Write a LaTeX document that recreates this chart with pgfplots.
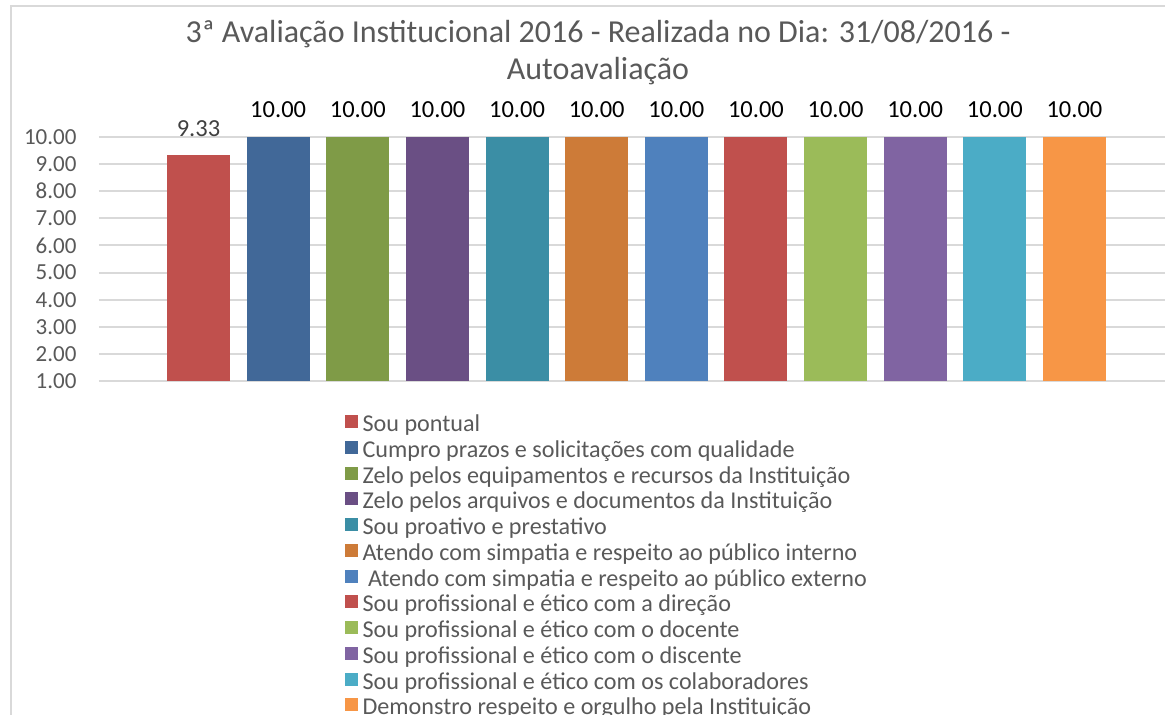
\documentclass[border=0pt]{standalone}
\usepackage{fontspec}
\setmainfont{Carlito}
\usepackage{pgfplots}
\pgfplotsset{compat=1.18}
\definecolor{framegray}{HTML}{D9D9D9}
\definecolor{gridgray}{HTML}{D9D9D9}
\definecolor{textgray}{HTML}{595959}
\definecolor{labelgray}{HTML}{404040}
\definecolor{cA}{HTML}{C0504D}
\definecolor{cB}{HTML}{416898}
\definecolor{cC}{HTML}{7F9B47}
\definecolor{cD}{HTML}{6A4F84}
\definecolor{cE}{HTML}{3B8EA5}
\definecolor{cF}{HTML}{CD7B38}
\definecolor{cG}{HTML}{4F81BD}
\definecolor{cH}{HTML}{C0504D}
\definecolor{cI}{HTML}{9BBB59}
\definecolor{cJ}{HTML}{8064A2}
\definecolor{cK}{HTML}{4BACC6}
\definecolor{cL}{HTML}{F79646}

\begin{document}
\begin{tikzpicture}
\clip (0,0) rectangle (466pt,286pt);
\draw[framegray, line width=0.8pt] (4.4pt,0) -- (4.4pt,283.6pt) -- (470pt,283.6pt);
\begin{axis}[
  at={(39.6pt,133.6pt)}, anchor=south west,
  width=430pt, height=97.6pt, scale only axis,
  xmin=-0.25, xmax=13.25, ymin=1, ymax=10,
  ytick={1,2,...,10}, xtick=\empty,
  ybar, bar width=25.2pt, bar shift=0pt,
  ymajorgrids, grid style={gridgray, line width=0.8pt},
  axis line style={draw=none}, major tick length=0pt,
  /pgf/number format/assume math mode=true,
  yticklabel={\pgfmathprintnumber[fixed,fixed zerofill,precision=2,assume math mode=true]{\tick}},
  yticklabel style={font=\fontsize{9.2}{11}\selectfont,
    text=textgray, anchor=east, inner sep=0pt},
  yticklabel shift=8.8pt,
  nodes near coords={\pgfmathprintnumber[fixed,fixed zerofill,precision=2]{\pgfplotspointmeta}},
  every node near coord/.append style={anchor=base, inner sep=0pt, yshift=7.6pt,
    font=\fontsize{9.8}{11}\selectfont, text=black},
  title={3ª Avaliação Institucional 2016 - Realizada no Dia: 31/08/2016 -\\Autoavaliação},
  title style={align=center, font=\fontsize{12.8}{15}\selectfont, text=textgray,
    inner sep=0pt, anchor=north, at={(axis description cs:0.4642,1.42)}},
  legend style={at={(axis description cs:0.228,-0.138)}, anchor=north west,
    draw=none, fill=none, inner sep=0pt, font=\fontsize{9.65}{11}\selectfont,
    text=textgray, row sep=1.9pt, column sep=2pt,
    nodes={inner sep=0pt, text height=6.4pt, text depth=1.8pt}},
  legend cell align=left,
  legend image code/.code={\fill[#1] (0pt,-0.9pt) rectangle (5.2pt,4.3pt);},
]
\addplot[fill=cA, draw=none, every node near coord/.append style={text=labelgray}] coordinates {(1,9.33)};
\addlegendentry{Sou pontual}
\addplot[fill=cB, draw=none] coordinates {(2,10)};
\addlegendentry{Cumpro prazos e solicitações com qualidade}
\addplot[fill=cC, draw=none] coordinates {(3,10)};
\addlegendentry{Zelo pelos equipamentos e recursos da Instituição}
\addplot[fill=cD, draw=none] coordinates {(4,10)};
\addlegendentry{Zelo pelos arquivos e documentos da Instituição}
\addplot[fill=cE, draw=none] coordinates {(5,10)};
\addlegendentry{Sou proativo e prestativo}
\addplot[fill=cF, draw=none] coordinates {(6,10)};
\addlegendentry{Atendo com simpatia e respeito ao público interno}
\addplot[fill=cG, draw=none] coordinates {(7,10)};
\addlegendentry{\ Atendo com simpatia e respeito ao público externo}
\addplot[fill=cH, draw=none] coordinates {(8,10)};
\addlegendentry{Sou profissional e ético com a direção}
\addplot[fill=cI, draw=none] coordinates {(9,10)};
\addlegendentry{Sou profissional e ético com o docente}
\addplot[fill=cJ, draw=none] coordinates {(10,10)};
\addlegendentry{Sou profissional e ético com o discente}
\addplot[fill=cK, draw=none] coordinates {(11,10)};
\addlegendentry{Sou profissional e ético com os colaboradores}
\addplot[fill=cL, draw=none] coordinates {(12,10)};
\addlegendentry{Demonstro respeito e orgulho pela Instituição}
\end{axis}
\end{tikzpicture}
\end{document}
